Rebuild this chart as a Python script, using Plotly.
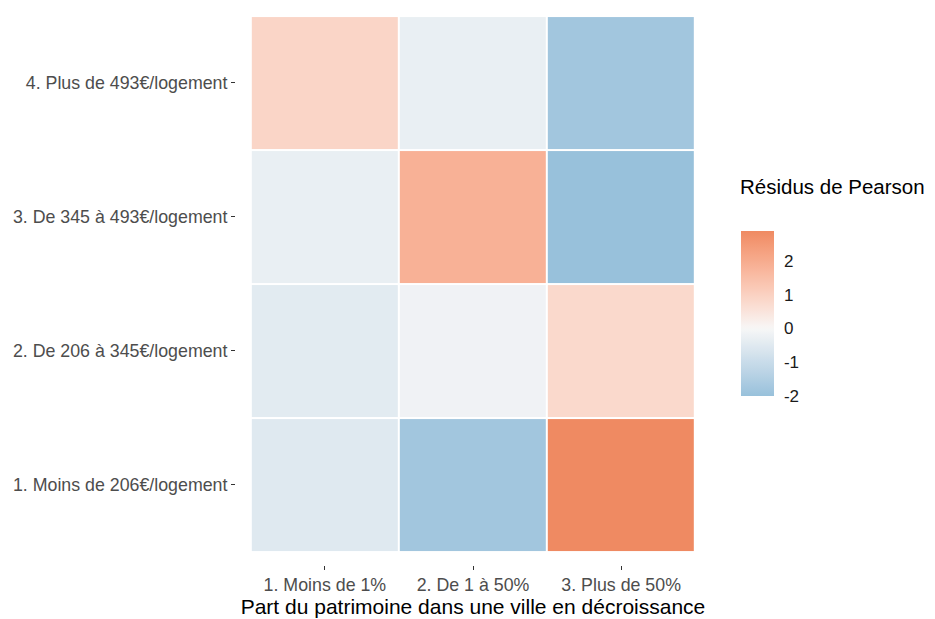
import plotly.graph_objects as go
import numpy as np

x_categories = ["1. Moins de 1%", "2. De 1 à 50%", "3. Plus de 50%"]
y_categories = [
    "1. Moins de 206€/logement",
    "2. De 206 à 345€/logement",
    "3. De 345 à 493€/logement",
    "4. Plus de 493€/logement",
]
# Pearson residuals, rows follow y_categories, columns follow x_categories
residuals_row1 = [-0.5, -1.8, 2.9]
residuals_row2 = [-0.45, -0.15, 0.8]
residuals_row3 = [-0.3, 1.85, -2.0]
residuals_row4 = [0.9, -0.3, -1.8]
z = [residuals_row1, residuals_row2, residuals_row3, residuals_row4]

colorbar_ticks = [-2, -1, 0, 1, 2]
colorbar_ticktext = ["-2", "-1", "0", "1", "2"]

low_col, mid_col, high_col = "#67A9CF", "#F7F7F7", "#EF8A62"


def hex2rgb(h):
    h = h.lstrip("#")
    return np.array([int(h[i:i + 2], 16) / 255 for i in (0, 2, 4)])


def srgb2lin(c):
    return np.where(c <= 0.04045, c / 12.92, ((c + 0.055) / 1.055) ** 2.4)


def lin2srgb(c):
    return np.where(c <= 0.0031308, 12.92 * c, 1.055 * np.clip(c, 0, None) ** (1 / 2.4) - 0.055)


M = np.array([[0.4124, 0.3576, 0.1805], [0.2126, 0.7152, 0.0722], [0.0193, 0.1192, 0.9505]])
Minv = np.linalg.inv(M)
WHITE = np.array([0.95047, 1.0, 1.08883])


def f(t):
    d = 6 / 29
    return np.where(t > d ** 3, np.cbrt(t), t / (3 * d * d) + 4 / 29)


def finv(t):
    d = 6 / 29
    return np.where(t > d, t ** 3, 3 * d * d * (t - 4 / 29))


def rgb2lab(h):
    xyz = M @ srgb2lin(hex2rgb(h)) / WHITE
    fx, fy, fz = f(xyz)
    return np.array([116 * fy - 16, 500 * (fx - fy), 200 * (fy - fz)])


def lab2hex(lab):
    L, a, b = lab
    fy = (L + 16) / 116
    fx = fy + a / 500
    fz = fy - b / 200
    xyz = finv(np.array([fx, fy, fz])) * WHITE
    rgb = np.clip(lin2srgb(Minv @ xyz), 0, 1)
    return "#%02x%02x%02x" % tuple(int(round(v * 255)) for v in rgb)


lab_low, lab_mid, lab_high = rgb2lab(low_col), rgb2lab(mid_col), rgb2lab(high_col)

flat = [v for row in z for v in row]
zmin, zmax = min(flat), max(flat)
span = max(abs(zmin), abs(zmax))
colorscale = []
for p in np.linspace(0, 1, 41):
    v = zmin + p * (zmax - zmin)
    r = v / (2 * span) + 0.5
    if r <= 0.5:
        t = r / 0.5
        lab = lab_low + (lab_mid - lab_low) * t
    else:
        t = (r - 0.5) / 0.5
        lab = lab_mid + (lab_high - lab_mid) * t
    colorscale.append([float(p), lab2hex(lab)])

FONT = "Arial, 'Liberation Sans', sans-serif"

fig = go.Figure(
    go.Heatmap(
        x=x_categories,
        y=y_categories,
        z=z,
        zmin=zmin,
        zmax=zmax,
        colorscale=colorscale,
        xgap=2,
        ygap=2,
        colorbar=dict(
            x=1.065,
            xanchor="left",
            xpad=0,
            y=0.452,
            yanchor="middle",
            len=165,
            lenmode="pixels",
            thickness=33,
            outlinewidth=0,
            tickvals=colorbar_ticks,
            ticktext=colorbar_ticktext,
            ticks="outside",
            ticklen=7,
            tickcolor="white",
            tickfont=dict(family=FONT, size=17, color="#1a1a1a"),
            ypad=0,
        ),
    )
)

fig.add_annotation(
    text="Résidus de Pearson",
    xref="paper", yref="paper",
    x=1.059, y=0.680,
    xanchor="left", yanchor="middle",
    showarrow=False,
    font=dict(family=FONT, size=20.5, color="#000000"),
)

fig.update_layout(
    width=935,
    height=619,
    margin=dict(l=228, r=233, t=0, b=62),
    paper_bgcolor="white",
    plot_bgcolor="white",
    font=dict(family=FONT),
    xaxis=dict(
        type="category",
        range=[-0.6, 2.6],
        showgrid=False,
        zeroline=False,
        ticks="outside",
        ticklen=4,
        tickwidth=1,
        tickcolor="#333333",
        tickfont=dict(family=FONT, size=17.8, color="#4d4d4d"),
        title=dict(
            text="Part du patrimoine dans une ville en décroissance",
            font=dict(family=FONT, size=21, color="#000000"),
            standoff=0,
        ),
    ),
    yaxis=dict(
        type="category",
        range=[-0.6, 3.56],
        showgrid=False,
        zeroline=False,
        ticks="outside",
        ticklen=4,
        tickwidth=1,
        tickcolor="#333333",
        tickfont=dict(family=FONT, size=17.8, color="#4d4d4d"),
    ),
)

fig.write_html("out.html")
